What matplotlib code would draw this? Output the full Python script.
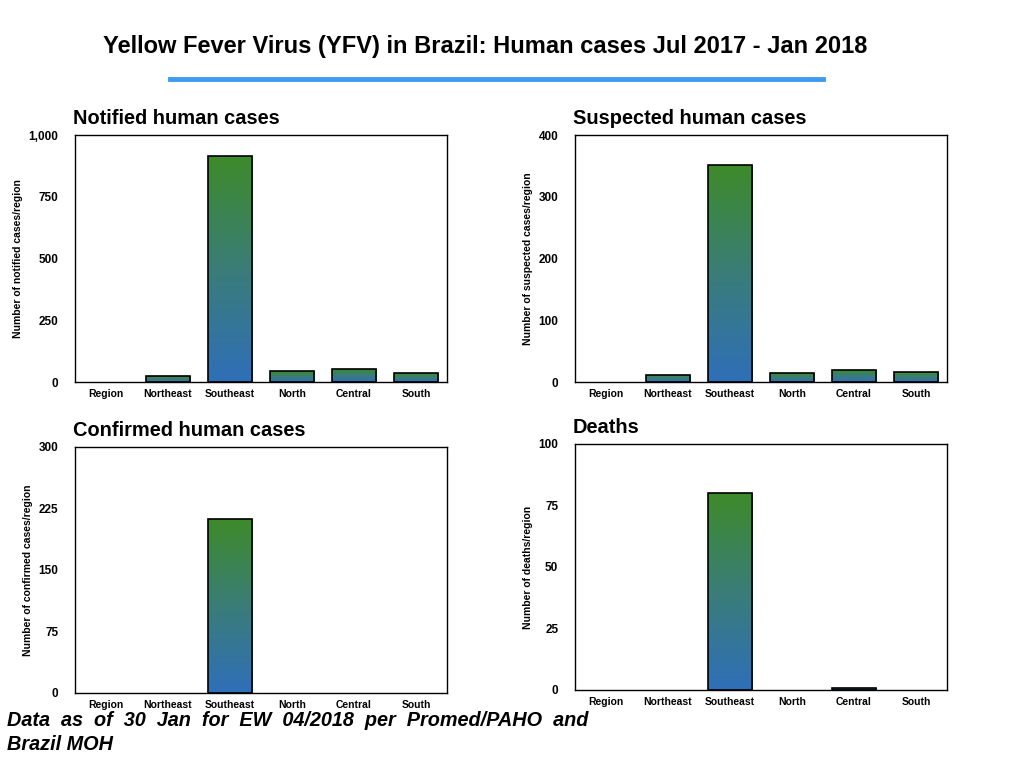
import numpy as np
import matplotlib
matplotlib.use("Agg")
import matplotlib.pyplot as plt
from matplotlib.colors import LinearSegmentedColormap
from matplotlib.ticker import FuncFormatter

plt.rcParams['font.family'] = ['Liberation Sans', 'DejaVu Sans']

regions = ['Region', 'Northeast', 'Southeast', 'North', 'Central', 'South']
notified = [0, 23, 915, 44, 54, 35]
suspected = [0, 12, 351, 14, 20, 16]
confirmed = [0, 0, 212, 0, 0, 0]
deaths = [0, 0, 80, 0, 1, 0]

panels = [
    ('Notified human cases', 'Number of notified cases/region', notified, 1000, [0, 250, 500, 750, 1000]),
    ('Suspected human cases', 'Number of suspected cases/region', suspected, 400, [0, 100, 200, 300, 400]),
    ('Confirmed human cases', 'Number of confirmed cases/region', confirmed, 300, [0, 75, 150, 225, 300]),
    ('Deaths', 'Number of deaths/region', deaths, 100, [0, 25, 50, 75, 100]),
]
# axes boxes in figure fractions
boxes = [
    [0.0732, 0.5026, 0.3633, 0.3216],
    [0.5615, 0.5026, 0.3633, 0.3216],
    [0.0732, 0.0977, 0.3633, 0.3203],
    [0.5615, 0.1016, 0.3633, 0.3203],
]

cmap = LinearSegmentedColormap.from_list('bg', ['#2f6fb9', '#3a7d78', '#3d8b2a'])
grad = np.linspace(0, 1, 256).reshape(-1, 1)

fig = plt.figure(figsize=(10.24, 7.68), dpi=100)

fig.text(0.474, 0.94, 'Yellow Fever Virus (YFV) in Brazil: Human cases Jul 2017 - Jan 2018',
         ha='center', va='center', fontsize=17, fontweight='bold')
fig.add_artist(plt.Line2D([170/1024, 823/1024], [1-79/768, 1-79/768], color='#3d9bf0', lw=3.5))

for (title, ylab, vals, ymax, ticks), box in zip(panels, boxes):
    ax = fig.add_axes(box)
    x = np.arange(len(regions))
    lws = [1.2 if v > 0 else 0 for v in vals]
    bars = ax.bar(x, vals, width=0.72, facecolor='none', edgecolor='black', linewidth=lws, zorder=3)
    for b, v in zip(bars, vals):
        if v <= 0:
            continue
        x0 = b.get_x()
        im = ax.imshow(grad, cmap=cmap, origin='lower', aspect='auto',
                       extent=[x0, x0 + b.get_width(), 0, v], zorder=2)
        im.set_clip_path(b)
    ax.set_xlim(-0.5, 5.5)
    ax.set_ylim(0, ymax)
    ax.set_xticks(x)
    ax.set_xticklabels(regions, fontsize=7.5, fontweight='bold')
    ax.set_yticks(ticks)
    ax.yaxis.set_major_formatter(FuncFormatter(lambda v, p: f'{int(v):,}'))
    for lab in ax.get_yticklabels():
        lab.set_fontweight('bold')
        lab.set_fontsize(8.5)
    ax.tick_params(length=0, pad=12)
    ax.tick_params(axis='x', pad=5)
    ax.set_ylabel(ylab, fontsize=7.5, fontweight='bold', labelpad=4)
    ax.set_title(title, loc='left', fontsize=14.4, fontweight='bold', x=-0.005, pad=8)
    for s in ax.spines.values():
        s.set_linewidth(1.0)

fig.text(0.007, 1-721/768, 'Data  as  of  30  Jan  for  EW  04/2018  per  Promed/PAHO  and',
         fontsize=14.3, fontweight='bold', style='italic', va='center', ha='left')
fig.text(0.007, 1-745/768, 'Brazil MOH',
         fontsize=14.3, fontweight='bold', style='italic', va='center', ha='left')

fig.savefig('out.png', dpi=100)
